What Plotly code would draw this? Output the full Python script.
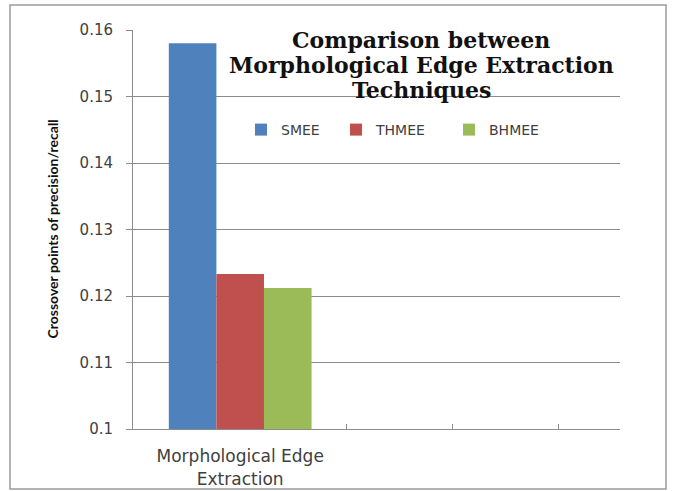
import plotly.graph_objects as go

categories = ["Morphological Edge<br>Extraction", "", "", ""]
series_names = ["SMEE", "THMEE", "BHMEE"]
series_values = [[0.158], [0.1233], [0.1212]]
colors = ["#4F81BD", "#C0504D", "#9BBB59"]
y_ticks = [0.1, 0.11, 0.12, 0.13, 0.14, 0.15, 0.16]
y_ticklabels = ["0.1", "0.11", "0.12", "0.13", "0.14", "0.15", "0.16"]
title_lines = ["Comparison between", "Morphological Edge Extraction", "Techniques"]

cat_pos = list(range(len(categories)))
offsets = [-0.672, -0.224, 0.224]

# plot area in pixels
L, R, T, B = 133, 620, 30, 429
PW, PH = R - L, B - T
def px(x):
    return (x - L) / PW
def py(y):
    return (B - y) / PH

legend_names = ["legend", "legend2", "legend3"]
legend_text_x = [280, 375, 488]

fig = go.Figure()
for name, vals, col, off, lg in zip(series_names, series_values, colors, offsets, legend_names):
    fig.add_trace(go.Bar(
        x=cat_pos[:len(vals)], y=vals, name=name, legend=lg,
        marker=dict(color=col, line=dict(width=0)),
        width=0.448, offset=off,
    ))

grid_col = "#8C8C8C"
leg_common = dict(orientation="h", yanchor="middle", xanchor="left",
                  font=dict(family="DejaVu Sans", size=14, color="#404040"),
                  bgcolor="rgba(0,0,0,0)", itemwidth=30, borderwidth=0)
legends = {}
for lg, tx in zip(legend_names, legend_text_x):
    legends[lg] = dict(leg_common, x=px(tx - 39), y=py(130))

title_y = [40, 65, 90]
annotations = []
for line, ty in zip(title_lines, title_y):
    annotations.append(dict(text=line, xref="paper", yref="paper", x=px(421), y=py(ty),
                            xanchor="center", yanchor="middle", showarrow=False,
                            font=dict(family="DejaVu Serif", size=22, color="#111111", weight="bold")))
annotations.append(dict(text="<b>Crossover points of precision/recall</b>",
                        xref="paper", yref="paper", x=px(52), y=0.5, textangle=-90,
                        xanchor="center", yanchor="middle", showarrow=False,
                        font=dict(family="Liberation Sans Narrow, Lato", size=14, color="#111111")))

fig.update_layout(
    width=673, height=491,
    margin=dict(l=L, r=673 - R, t=T, b=491 - B, autoexpand=False),
    paper_bgcolor="white", plot_bgcolor="white",
    barmode="overlay",
    showlegend=True,
    **legends,
    xaxis=dict(range=[-1.009, 3.575], tickvals=cat_pos, ticktext=categories,
               automargin=False,
               showgrid=False, zeroline=False, showline=True, linecolor=grid_col, linewidth=1,
               ticks="inside", ticklen=5, tickcolor=grid_col, layer="below traces",
               ticklabelstandoff=12,
               tickfont=dict(family="DejaVu Sans", size=17, color="#404040")),
    yaxis=dict(range=[0.1, 0.16], tickvals=y_ticks, ticktext=y_ticklabels,
               automargin=False,
               showgrid=True, gridcolor=grid_col, gridwidth=1, zeroline=False,
               showline=True, linecolor=grid_col, linewidth=1,
               ticks="outside", ticklen=6, tickcolor=grid_col,
               ticklabelstandoff=10,
               tickfont=dict(family="DejaVu Sans", size=15, color="#404040")),
    shapes=[dict(type="rect", xref="paper", yref="paper",
                 x0=px(10), x1=px(666), y0=py(489), y1=py(5),
                 line=dict(color="#9A9A9A", width=1.5), fillcolor="rgba(0,0,0,0)", layer="below")],
    annotations=annotations,
)

fig.write_html("out.html", config={"displayModeBar": False},
               post_script="document.body.style.margin='0';")
